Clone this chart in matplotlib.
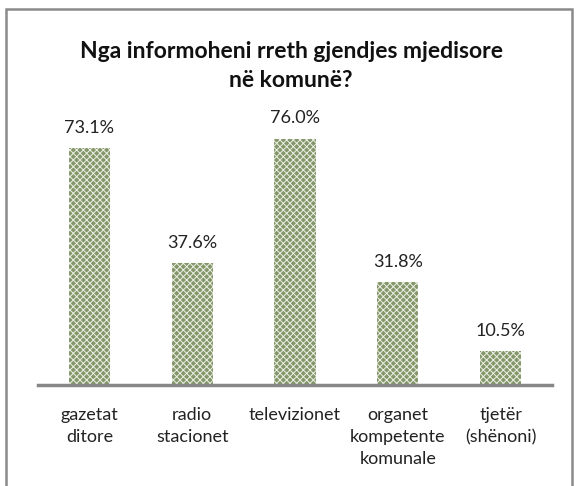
import matplotlib.pyplot as plt
import matplotlib.patches as mpatches

categories = ['gazetat\nditore', 'radio\nstacionet', 'televizionet',
              'organet\nkompetente\nkomunale', 'tjetër\n(shënoni)']
values = [73.1, 37.6, 76.0, 31.8, 10.5]
labels = ['73.1%', '37.6%', '76.0%', '31.8%', '10.5%']

plt.rcParams['font.family'] = ['Lato', 'DejaVu Sans']
plt.rcParams['hatch.linewidth'] = 0.7

W, H = 579, 486
fig = plt.figure(figsize=(W / 100, H / 100), dpi=100)
ax = fig.add_axes([38 / W, (H - 385) / H, 514 / W, 259 / H])

x = range(len(values))
bars = ax.bar(x, values, width=0.40, color='#84976a', hatch='xxxxx',
              edgecolor='#eef0e6', linewidth=0)
ax.bar_label(bars, labels=labels, padding=9, fontsize=13, color='#222222')

ax.set_xlim(-0.5, len(values) - 0.5)
ax.set_ylim(0, 80)
ax.set_xticks(list(x))
ax.set_xticklabels(categories, fontsize=13, color='#222222', linespacing=1.45, va='top')
ax.tick_params(axis='x', length=0, pad=16)
ax.set_yticks([])
for s in ['top', 'right', 'left']:
    ax.spines[s].set_visible(False)
ax.spines['bottom'].set_color('#878787')
ax.spines['bottom'].set_linewidth(2.5)

fig.text(291 / W, 1 - 66 / H, 'Nga informoheni rreth gjendjes mjedisore\nnë komunë?',
         ha='center', va='center', fontsize=16.5, fontweight='bold', linespacing=1.45,
         color='#111111')

border = mpatches.Rectangle((6 / W, -0.05), 566 / W, 1.05 - 9 / H, transform=fig.transFigure,
                            fill=False, edgecolor='#8a8a8a', linewidth=1.8)
fig.add_artist(border)

fig.savefig('out.png', dpi=100)
